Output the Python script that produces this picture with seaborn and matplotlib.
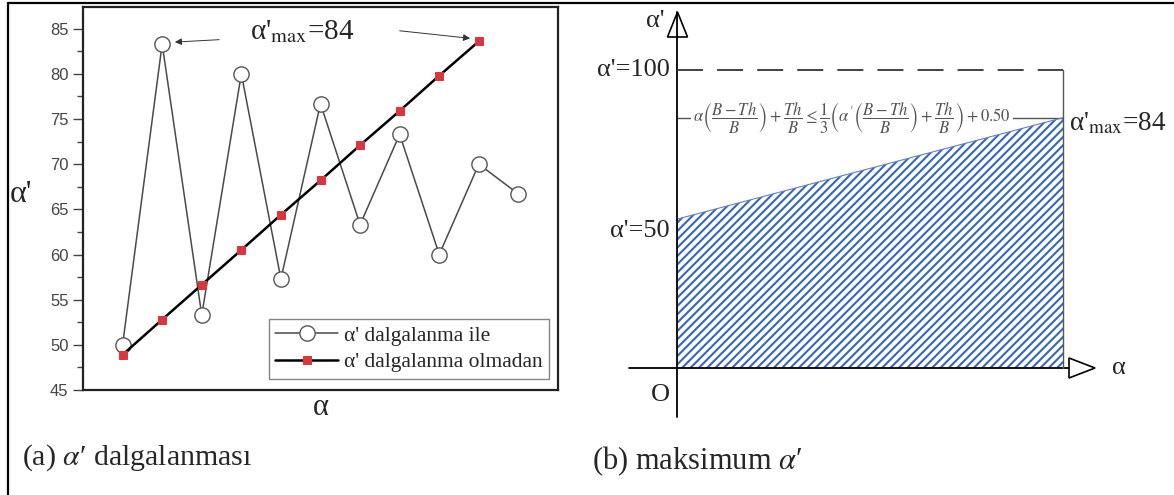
import matplotlib
matplotlib.use("Agg")
import matplotlib.pyplot as plt
import seaborn as sns
import pandas as pd
import numpy as np
from matplotlib.lines import Line2D
from matplotlib.patches import Polygon

# ---------------- data ----------------
step_idx = list(range(1, 12))
alpha_with_ripple = [50.0, 83.3, 53.3, 80.0, 57.3, 76.7, 63.3, 73.3, 60.0, 70.0, 66.7]
step_idx_no = list(range(1, 11))
alpha_without_ripple = [48.9, 52.8, 56.65, 60.5, 64.4, 68.2, 72.1, 75.9, 79.8, 83.6]
yticks_a = [45, 50, 55, 60, 65, 70, 75, 80, 85]
label_with = "α' dalgalanma ile"
label_without = "α' dalgalanma olmadan"

b_alpha = [0.0, 1.0]
b_alpha_prime = [50.0, 84.0]
b_upper = 100.0
caption_a = r"(a) $\alpha$′ dalgalanması"
caption_b = r"(b) maksimum $\alpha$′"

# ---------------- style ----------------
sns.set_theme(style="white")
plt.rcParams['font.family'] = ['Liberation Serif', 'DejaVu Serif']
plt.rcParams['mathtext.fontset'] = 'stix'
plt.rcParams['hatch.linewidth'] = 1.5

W, H = 1174, 495
fig = plt.figure(figsize=(W / 100, H / 100), dpi=100)
fig.patch.set_facecolor('white')

def fx(px):
    return px / W

def fy(py):
    return 1 - py / H

# ---------------- panel a ----------------
axa = fig.add_axes([fx(83), fy(390), fx(558) - fx(83), fy(7) - fy(390)])
df_w = pd.DataFrame({"x": step_idx, "y": alpha_with_ripple})
df_n = pd.DataFrame({"x": step_idx_no, "y": alpha_without_ripple})
sns.lineplot(data=df_w, x="x", y="y", ax=axa, color="#4a4a4a", lw=1.1,
             marker="o", markersize=11, markerfacecolor="white",
             markeredgecolor="#555555", markeredgewidth=1.0, label=label_with)
sns.lineplot(data=df_n, x="x", y="y", ax=axa, color="black", lw=1.8,
             marker="s", markersize=5.5, markerfacecolor="#d9363e",
             markeredgecolor="#d9363e", label=label_without)
axa.set_xlim(0, 12)
axa.set_ylim(45, 87.4)
axa.set_yticks(yticks_a)
axa.set_yticks(np.arange(47.5, 87.5, 5), minor=True)
axa.set_xticks([])
axa.tick_params(axis='y', which='major', direction='out', length=7, width=1.0,
                color='#444444', labelsize=12, labelcolor='#444444', left=True)
axa.tick_params(axis='y', which='minor', direction='out', length=4, width=1.0,
                color='#444444', left=True)
for lab in axa.get_yticklabels():
    lab.set_family(['Liberation Sans', 'DejaVu Sans'])
for sp in axa.spines.values():
    sp.set_linewidth(1.6)
    sp.set_color('#222222')
axa.set_xlabel("α", fontsize=22, labelpad=2)
axa.set_ylabel("α'", fontsize=23, rotation=0, va='center')
axa.yaxis.set_label_coords(-0.13, 0.51)
leg = axa.legend(loc='lower right', bbox_to_anchor=(0.982, 0.03), fontsize=15.5,
                 frameon=True, fancybox=False, edgecolor='#666666',
                 handlelength=2.9, borderpad=0.3, labelspacing=0.3,
                 handletextpad=0.3, borderaxespad=0)
leg.get_frame().set_linewidth(1.0)

axa.text(5.55, 84.7, "α'$_{\\mathrm{max}}$=84", fontsize=21, ha='center', va='center')
axa.annotate("", xy=(2.25, 83.5), xytext=(3.51, 83.8),
             arrowprops=dict(arrowstyle='-|>', color='#333333', lw=0.7,
                             mutation_scale=10))
axa.annotate("", xy=(9.85, 83.9), xytext=(7.93, 84.8),
             arrowprops=dict(arrowstyle='-|>', color='#333333', lw=0.7,
                             mutation_scale=10))

# ---------------- panel b ----------------
x0, x1 = 677.5, 1063.0   # pixel of alpha=0, alpha=1
y0, ky = 368.0, 2.98     # pixel of alpha'=0, pixels per unit
px_l, px_r, py_t, py_b = 590, 1174, 0, 420
axb = fig.add_axes([fx(px_l), fy(py_b), fx(px_r) - fx(px_l), fy(py_t) - fy(py_b)])
axb.set_xlim((px_l - x0) / (x1 - x0), (px_r - x0) / (x1 - x0))
axb.set_ylim((y0 - py_b) / ky, (y0 - py_t) / ky)
axb.axis('off')
ux = 1.0 / (x1 - x0)   # alpha per pixel
uy = 1.0 / ky          # alpha' per pixel

axb.fill_between(b_alpha, [0, 0], b_alpha_prime, facecolor='none',
                 edgecolor='#3466bf', hatch='////', linewidth=0, zorder=1)
axb.plot(b_alpha, b_alpha_prime, color='#6a7fc0', lw=0.8, zorder=2)

# axes with hollow arrow heads
axb.plot([0, 0], [-49 * uy, (y0 - 37) * uy], color='black', lw=1.3, zorder=3)
axb.add_patch(Polygon([[-10 * ux, (y0 - 37) * uy],
                       [10 * ux, (y0 - 37) * uy],
                       [0, (y0 - 12) * uy]], closed=True, fill=False,
                      edgecolor='black', lw=1.2, zorder=3))
axb.plot([0, 0], [(y0 - 37) * uy, (y0 - 12) * uy], color='black', lw=1.3, zorder=3)
axb.plot([-48.5 * ux, 1 + 6 * ux], [0, 0], color='black', lw=1.3, zorder=3)
axb.add_patch(Polygon([[1 + 6 * ux, -10 * uy], [1 + 6 * ux, 10 * uy],
                       [1 + 32 * ux, 0]], closed=True, fill=False,
                      edgecolor='black', lw=1.2, zorder=3))

# dashed upper bound and right border
axb.plot([0, 1], [b_upper, b_upper], color='#333333', lw=1.3,
         dashes=(14.4, 7.8), zorder=3)
axb.plot([1, 1], [0, b_upper], color='#555555', lw=1.0, zorder=3)
# alpha'max line with formula (line under formula box)
axb.plot([0, 1], [b_alpha_prime[1], b_alpha_prime[1]], color='#555555', lw=1.0, zorder=0.5)
formula = (r"$\alpha\left(\dfrac{B-Th}{B}\right)+\dfrac{Th}{B}\leq\dfrac{1}{3}"
           r"\left(\alpha'\left(\dfrac{B-Th}{B}\right)+\dfrac{Th}{B}\right)+0.50$")
axb.text(0.453, b_alpha_prime[1], formula, fontsize=12, color='#555555',
         ha='center', va='center', zorder=0.8,
         bbox=dict(facecolor='white', edgecolor='none', pad=1.5))

# labels
axb.text(-8 * ux, b_upper, "α'=100", fontsize=19, ha='right', va='center')
axb.text(-8 * ux, b_alpha_prime[0] - 4, "α'=50", fontsize=19, ha='right', va='center')
axb.text(1 + 6 * ux, b_alpha_prime[1] - 2, "α'$_{\\mathrm{max}}$=84", fontsize=19.5,
         ha='left', va='center')
axb.text(-22 * ux, (y0 - 21) * uy, "α'", fontsize=19, ha='center', va='center')
axb.text(-17 * ux, -27 * uy, "O", fontsize=19, ha='center', va='center')
axb.text(1 + 56 * ux, 0, "α", fontsize=19, ha='center', va='center')

# ---------------- captions & borders ----------------
fig.text(fx(22), fy(458), caption_a, fontsize=21.5, ha='left', va='center')
fig.text(fx(592), fy(461), caption_b, fontsize=22, ha='left', va='center')
fig.add_artist(Line2D([fx(8), 1.0], [fy(3), fy(3)], color='black', lw=1.6))
fig.add_artist(Line2D([fx(8), fx(8)], [0, fy(3)], color='black', lw=1.6))

fig.savefig("out.png", dpi=100, facecolor='white')
